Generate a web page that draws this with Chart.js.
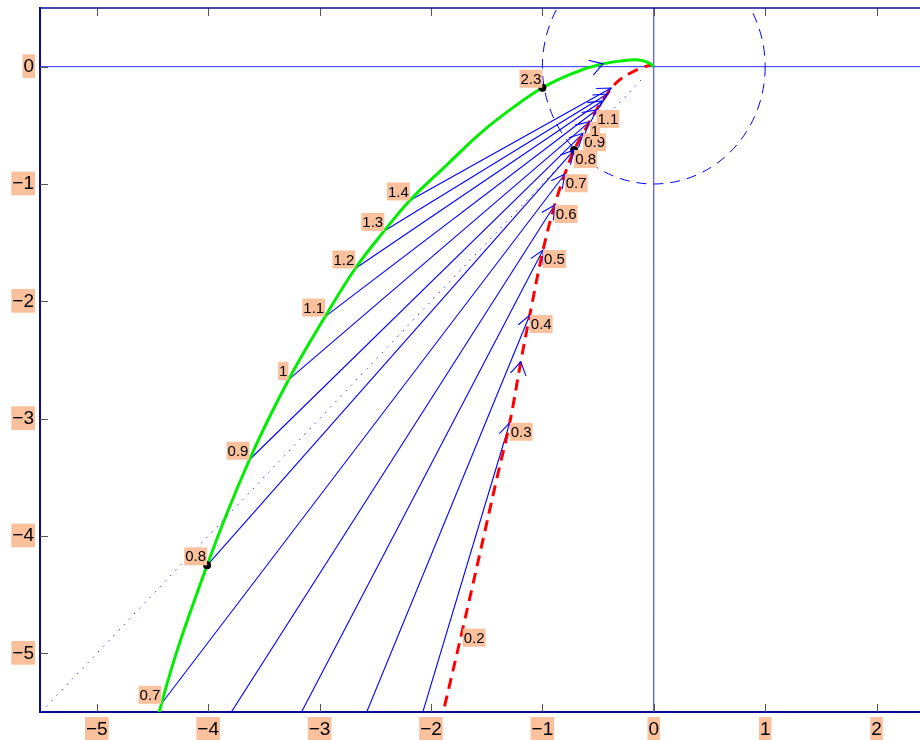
<!DOCTYPE html>
<html>
<head>
<meta charset="utf-8">
<script src="https://cdn.jsdelivr.net/npm/chart.js@4.4.1/dist/chart.umd.min.js"></script>
<style>
  html, body { margin: 0; padding: 0; background: #fff; overflow: hidden; width: 920px; height: 740px; }
</style>
</head>
<body>
<canvas id="myChart" width="924" height="740"></canvas>
<script>
// axis ranges and ticks
const xMin = -5.51, xMax = 2.39, yMin = -5.5, yMax = 0.5;
const xTicks = [-5, -4, -3, -2, -1, 0, 1, 2];
const yTicks = [-5, -4, -3, -2, -1, 0];
const unitRadius = 1;

// green curve: labelled points (w)
const greenW = [0.3, 0.4, 0.5, 0.6, 0.7, 0.8, 0.9, 1, 1.1, 1.2, 1.3, 1.4, 2.3];
const greenX = [-6.03, -5.39, -5.09, -4.80, -4.42, -4.01, -3.63, -3.28, -2.95, -2.68, -2.42, -2.19, -1.00];
const greenY = [-18.0, -12.0, -9.0, -7.0, -5.43, -4.25, -3.35, -2.67, -2.13, -1.72, -1.40, -1.14, -0.18];

// green curve shape
const greenPathX = [-4.80, -4.42, -4.01, -3.63, -3.28, -2.95, -2.68, -2.42, -2.19, -1.85, -1.56, -1.28, -1.00, -0.75, -0.50, -0.28, -0.13, -0.04, 0];
const greenPathY = [-7.0, -5.43, -4.25, -3.35, -2.67, -2.13, -1.72, -1.40, -1.14, -0.83, -0.57, -0.36, -0.18, -0.065, 0.015, 0.05, 0.057, 0.03, 0];

// red dashed curve: labelled points (w)
const redW = [0.2, 0.3, 0.4, 0.5, 0.6, 0.7, 0.8, 0.9, 1, 1.1, 1.2, 1.3, 1.4];
const redX = [-1.715, -1.293, -1.113, -0.994, -0.889, -0.799, -0.715, -0.634, -0.575, -0.515, -0.462, -0.417, -0.382];
const redY = [-4.79, -3.035, -2.117, -1.563, -1.179, -0.917, -0.710, -0.568, -0.469, -0.369, -0.292, -0.233, -0.182];

// red curve shape
const redPathX = [-1.99, -1.715, -1.412, -1.293, -1.194, -1.113, -0.994, -0.889, -0.799, -0.715, -0.634, -0.575, -0.515, -0.462, -0.417, -0.382, -0.29, -0.20, -0.10, -0.03];
const redPathY = [-5.9, -4.79, -3.523, -3.035, -2.515, -2.117, -1.563, -1.179, -0.917, -0.710, -0.568, -0.469, -0.369, -0.292, -0.233, -0.182, -0.10, -0.05, -0.005, 0.012];

// which points get text, arrows, dots
const greenTextW = [0.7, 0.8, 0.9, 1, 1.1, 1.2, 1.3, 1.4, 2.3];
const redTextW = [0.2, 0.3, 0.4, 0.5, 0.6, 0.7, 0.8, 0.9, 1, 1.1];
const arrowW = [0.3, 0.4, 0.5, 0.6, 0.7, 0.8, 0.9, 1, 1.1, 1.2, 1.3, 1.4];
const dotGreenW = [0.8, 2.3];
const dotRedW = [0.8];

// direction arrows along the curves (from -> to)
const flowFromX = [-0.72, -1.25];
const flowFromY = [-0.055, -2.78];
const flowToX = [-0.455, -1.194];
const flowToY = [0.024, -2.515];

// dotted diagonal
const diagX = [-5.5, -0.1];
const diagY = [-5.5, -0.1];

const boxColor = '#fbc19c';
const fontFamily = '"Liberation Sans", Arial, sans-serif';

function at(w, ws, xs, ys) {
  const i = ws.indexOf(w);
  return { x: xs[i], y: ys[i] };
}
function pts(xs, ys) {
  return xs.map((v, i) => ({ x: v, y: ys[i] }));
}
function minusLabel(v) {
  return v < 0 ? '\u2212' + Math.abs(v) : String(v);
}

function head(ctx, fx, fy, tx, ty, len, ang) {
  const a = Math.atan2(ty - fy, tx - fx);
  ctx.beginPath();
  ctx.moveTo(tx - len * Math.cos(a - ang), ty - len * Math.sin(a - ang));
  ctx.lineTo(tx, ty);
  ctx.lineTo(tx - len * Math.cos(a + ang), ty - len * Math.sin(a + ang));
  ctx.stroke();
}

function tag(ctx, text, px, py, rightBottom) {
  ctx.font = '15px ' + fontFamily;
  const w = ctx.measureText(text).width + 2, h = 18;
  const bx = rightBottom ? px - w : px;
  const by = rightBottom ? py - h : py;
  ctx.fillStyle = boxColor;
  ctx.fillRect(bx, by, w, h);
  ctx.fillStyle = '#000';
  ctx.textAlign = 'left';
  ctx.textBaseline = 'middle';
  ctx.fillText(text, bx + 1, by + h / 2 + 1);
}

const extras = {
  id: 'extras',
  beforeDatasetsDraw(chart) {
    const { ctx, chartArea: a, scales: { x, y } } = chart;
    ctx.save();
    ctx.beginPath();
    ctx.rect(a.left, a.top, a.right - a.left, a.bottom - a.top);
    ctx.clip();
    const x0 = x.getPixelForValue(0), y0 = y.getPixelForValue(0);
    // zero lines
    ctx.strokeStyle = '#2b2bff';
    ctx.lineWidth = 1;
    ctx.beginPath();
    ctx.moveTo(a.left, y0); ctx.lineTo(a.right, y0);
    ctx.moveTo(x0, a.top); ctx.lineTo(x0, a.bottom);
    ctx.stroke();
    // unit circle
    ctx.strokeStyle = '#0000ff';
    ctx.setLineDash([10, 7]);
    ctx.beginPath();
    ctx.ellipse(x0, y0, x.getPixelForValue(unitRadius) - x0, y0 - y.getPixelForValue(unitRadius), 0, 0, Math.PI * 2);
    ctx.stroke();
    ctx.restore();
  },
  afterDatasetsDraw(chart) {
    const { ctx, chartArea: a, scales: { x, y } } = chart;
    ctx.save();
    ctx.beginPath();
    ctx.rect(a.left, a.top, a.right - a.left, a.bottom - a.top);
    ctx.clip();
    ctx.strokeStyle = '#0000ff';
    ctx.lineWidth = 1.1;
    // arrow heads at the red end
    arrowW.forEach(w => {
      const g = at(w, greenW, greenX, greenY), r = at(w, redW, redX, redY);
      head(ctx, x.getPixelForValue(g.x), y.getPixelForValue(g.y),
        x.getPixelForValue(r.x), y.getPixelForValue(r.y), 15, 0.48);
    });
    // direction arrows on the curves
    flowToX.forEach((v, i) => {
      head(ctx, x.getPixelForValue(flowFromX[i]), y.getPixelForValue(flowFromY[i]),
        x.getPixelForValue(v), y.getPixelForValue(flowToY[i]), 15, 0.55);
    });
    // labels
    greenTextW.forEach(w => {
      const p = at(w, greenW, greenX, greenY);
      tag(ctx, String(w), x.getPixelForValue(p.x), y.getPixelForValue(p.y), true);
    });
    redTextW.forEach(w => {
      const p = at(w, redW, redX, redY);
      tag(ctx, String(w), x.getPixelForValue(p.x), y.getPixelForValue(p.y), false);
    });
    ctx.restore();
  },
  afterDraw(chart) {
    const { ctx, chartArea: a, scales: { x, y } } = chart;
    ctx.save();
    // inward ticks
    ctx.strokeStyle = '#555';
    ctx.lineWidth = 1;
    ctx.beginPath();
    xTicks.forEach(v => {
      const px = Math.round(x.getPixelForValue(v)) + 0.5;
      ctx.moveTo(px, a.bottom); ctx.lineTo(px, a.bottom - 8);
      ctx.moveTo(px, a.top); ctx.lineTo(px, a.top + 8);
    });
    yTicks.forEach(v => {
      const py = Math.round(y.getPixelForValue(v)) + 0.5;
      ctx.moveTo(a.left, py); ctx.lineTo(a.left + 8, py);
    });
    ctx.stroke();
    // top frame line
    ctx.strokeStyle = '#0a0a9a';
    ctx.lineWidth = 1.5;
    ctx.beginPath();
    ctx.moveTo(a.left, a.top); ctx.lineTo(a.right, a.top);
    ctx.stroke();
    ctx.restore();
  }
};

const datasets = [];
datasets.push({
  label: 'marks',
  data: dotGreenW.map(w => at(w, greenW, greenX, greenY)).concat(dotRedW.map(w => at(w, redW, redX, redY))),
  pointRadius: 4,
  pointBackgroundColor: '#000',
  pointBorderWidth: 0,
  showLine: false,
  order: 0
});
datasets.push({
  label: 'G',
  data: pts(greenPathX, greenPathY),
  borderColor: '#00ee00',
  borderWidth: 3,
  tension: 0.4,
  pointRadius: 0,
  showLine: true,
  order: 1
});
datasets.push({
  label: 'N',
  data: pts(redPathX, redPathY),
  borderColor: '#ff0000',
  borderWidth: 3,
  borderDash: [11, 7],
  tension: 0.4,
  pointRadius: 0,
  showLine: true,
  order: 2
});
arrowW.forEach(w => {
  datasets.push({
    label: 'arrow ' + w,
    data: [at(w, greenW, greenX, greenY), at(w, redW, redX, redY)],
    borderColor: '#0000ff',
    borderWidth: 1.1,
    pointRadius: 0,
    showLine: true,
    order: 3
  });
});
datasets.push({
  label: 'diag',
  data: pts(diagX, diagY),
  borderColor: '#3a3aff',
  borderWidth: 1,
  borderDash: [1.5, 6],
  pointRadius: 0,
  showLine: true,
  order: 4
});

const tickFont = { size: 19, family: fontFamily };

let ctx = document.getElementById('myChart').getContext('2d');
let chart = new Chart(ctx, {
  type: 'scatter',
  data: { datasets: datasets },
  plugins: [extras],
  options: {
    responsive: false,
    animation: false,
    layout: { padding: { top: 8, right: 0, left: 0, bottom: 0 } },
    plugins: {
      legend: { display: false },
      tooltip: { enabled: false }
    },
    scales: {
      x: {
        type: 'linear',
        min: xMin,
        max: xMax,
        afterBuildTicks: s => { s.ticks = xTicks.map(v => ({ value: v })); },
        afterFit: s => { s.height = 28; s.paddingLeft = 0; s.paddingRight = 0; },
        grid: { color: 'rgba(0,0,0,0)', drawTicks: false },
        border: { display: true, color: '#0a0a9a', width: 2 },
        ticks: {
          callback: v => minusLabel(v),
          color: '#000',
          font: tickFont,
          padding: 6,
          maxRotation: 0,
          showLabelBackdrop: true,
          backdropColor: boxColor,
          backdropPadding: { top: 1, bottom: 0, left: 1, right: 1 }
        }
      },
      y: {
        type: 'linear',
        min: yMin,
        max: yMax,
        afterBuildTicks: s => { s.ticks = yTicks.map(v => ({ value: v })); },
        afterFit: s => { s.width = 40; s.paddingTop = 0; s.paddingBottom = 0; },
        grid: { color: 'rgba(0,0,0,0)', drawTicks: false },
        border: { display: true, color: '#0a0a9a', width: 2 },
        ticks: {
          callback: v => minusLabel(v),
          color: '#000',
          font: tickFont,
          padding: 6,
          showLabelBackdrop: true,
          backdropColor: boxColor,
          backdropPadding: { top: 1, bottom: 0, left: 1, right: 1 }
        }
      }
    }
  }
});
</script>
</body>
</html>
